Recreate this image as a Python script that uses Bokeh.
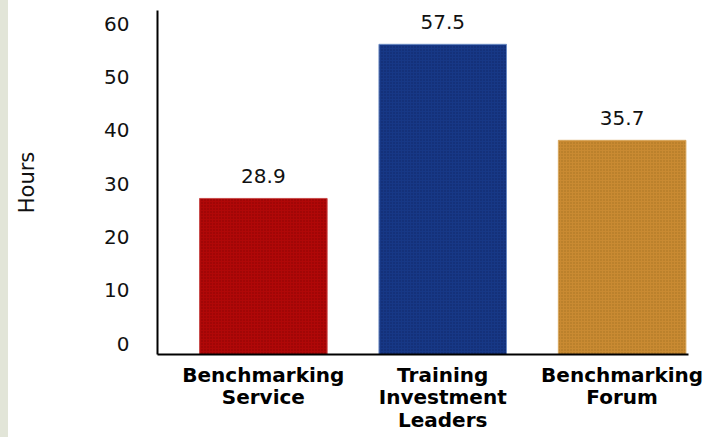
from bokeh.plotting import figure
from bokeh.models import ColumnDataSource, FixedTicker, Range1d, Spacer
from bokeh.layouts import row
from bokeh.embed import file_html
from bokeh.resources import INLINE
from bokeh.core.properties import value

categories = ["Benchmarking\nService", "Training\nInvestment\nLeaders", "Benchmarking\nForum"]
bar_heights = [27.2, 56.1, 38.1]
value_labels = ["28.9", "57.5", "35.7"]
y_ticks = [0, 10, 20, 30, 40, 50, 60]
colors = ["#b00808", "#173886", "#c98a32"]
hatch_colors = ["#700000", "#0a1650", "#8e6018"]
line_colors = ["#c84a4a", "#6d8cc4", "#d9a860"]

xs = [1, 2, 3]
Y0 = -2.06

src = ColumnDataSource(dict(x=xs, top=bar_heights, lab=value_labels,
                            c=colors, hc=hatch_colors, lc=line_colors))

p = figure(width=712, height=437, x_range=Range1d(0.41, 3.37), y_range=Range1d(Y0, 62.44),
           output_backend="svg", toolbar_location=None,
           min_border_left=149, min_border_right=32, min_border_top=10, min_border_bottom=83)
p.outline_line_color = None
p.grid.grid_line_color = None
p.background_fill_color = "white"
p.border_fill_color = "white"

p.vbar(x="x", top="top", bottom=Y0, width=0.711, source=src, fill_color="c",
       line_color="lc", line_width=1, hatch_pattern="dot", hatch_color="hc",
       hatch_scale=3, hatch_weight=1, hatch_alpha=0.6)

p.text(x="x", y="top", text="lab", source=src, text_align="center", text_baseline="middle",
       y_offset=-22, text_font=value("DejaVu Sans"), text_font_size="20px", text_color="#111111")

ya = p.yaxis[0]
ya.ticker = FixedTicker(ticks=y_ticks)
ya.major_tick_line_color = None
ya.minor_tick_line_color = None
ya.axis_line_width = 2
ya.axis_line_color = "black"
ya.major_label_standoff = 22
ya.major_label_text_font = "DejaVu Sans"
ya.major_label_text_font_size = "20px"
ya.major_label_text_color = "#111111"
ya.axis_label = "Hours"
ya.axis_label_text_font = "DejaVu Sans"
ya.axis_label_text_font_size = "21px"
ya.axis_label_text_font_style = "normal"
ya.axis_label_text_color = "#111111"
ya.axis_label_standoff = 62

xa = p.xaxis[0]
xa.ticker = FixedTicker(ticks=xs)
xa.major_label_overrides = {x: c for x, c in zip(xs, categories)}
xa.major_tick_line_color = None
xa.minor_tick_line_color = None
xa.axis_line_width = 2
xa.axis_line_color = "black"
xa.major_label_standoff = 2
xa.major_label_text_font = "DejaVu Sans"
xa.major_label_text_font_style = "bold"
xa.major_label_text_font_size = "20px"
xa.major_label_text_color = "black"
xa.major_label_text_line_height = 0.94

strip = Spacer(width=8, height=437, styles={"background-color": "#e2e5d8"})
layout = row(strip, p)
open("out.html", "w").write(file_html(layout, INLINE))
